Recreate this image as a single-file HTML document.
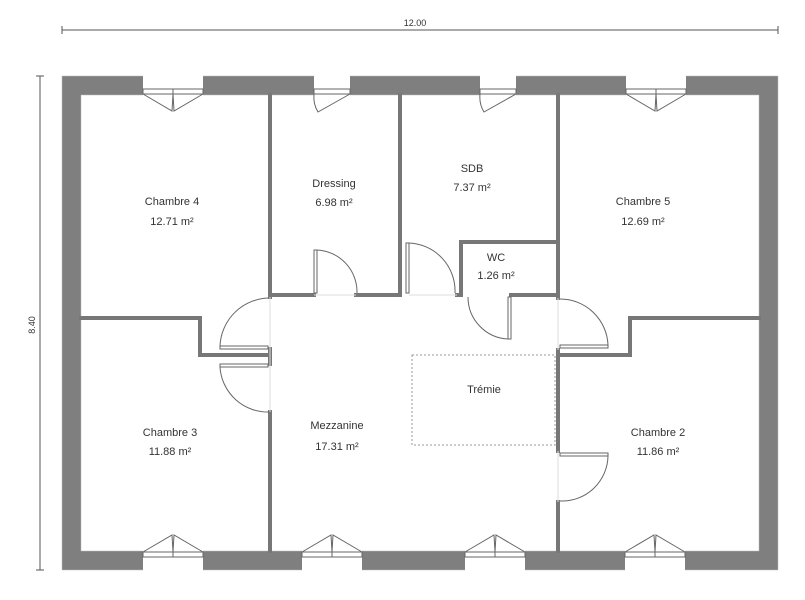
<!DOCTYPE html>
<html><head><meta charset="utf-8"><style>
html,body{margin:0;padding:0;background:#fff;}
svg{display:block;}
text{font-family:"Liberation Sans",sans-serif;font-size:11px;fill:#333;text-anchor:middle;}
</style></head><body>
<svg width="805" height="600" viewBox="0 0 805 600" xmlns="http://www.w3.org/2000/svg">
<!-- dimensions -->
<g stroke="#555" stroke-width="1">
<line x1="62" y1="30" x2="778" y2="30"/><line x1="62" y1="26" x2="62" y2="34"/><line x1="778" y1="26" x2="778" y2="34"/>
<line x1="40" y1="76" x2="40" y2="570"/><line x1="36" y1="76" x2="44" y2="76"/><line x1="36" y1="570" x2="44" y2="570"/>
</g>
<text x="415" y="26" style="font-size:9px">12.00</text>
<text x="0" y="0" style="font-size:9px" transform="translate(35,325) rotate(-90)">8.40</text>

<!-- outer walls -->
<path fill-rule="evenodd" fill="#7f7f7f" stroke="#bbb" stroke-width="0.5" d="M62,76 H778 V570 H62 Z M81,95 V551 H759 V95 Z"/>

<!-- window openings -->
<g fill="#fff">
<rect x="143" y="75" width="60" height="21"/><rect x="314" y="75" width="36" height="21"/>
<rect x="480" y="75" width="36" height="21"/><rect x="626" y="75" width="60" height="21"/>
<rect x="143" y="550" width="60" height="21"/><rect x="302" y="550" width="60" height="21"/>
<rect x="465" y="550" width="60" height="21"/><rect x="625" y="550" width="60" height="21"/>
</g>
<g fill="none" stroke="#666" stroke-width="1">
<!-- top double windows -->
<rect x="143" y="89" width="60" height="5"/><line x1="173" y1="89" x2="173" y2="94"/>
<path d="M143,94 L172,111 L173,94 M203,94 L174,111 L173,94"/>
<rect x="626" y="89" width="60" height="5"/><line x1="656" y1="89" x2="656" y2="94"/>
<path d="M626,94 L655,111 L656,94 M686,94 L657,111 L656,94"/>
<!-- single -->
<rect x="314" y="89" width="36" height="5"/><path d="M350,94 L318,112 Q313,104 314,94"/>
<rect x="480" y="89" width="36" height="5"/><path d="M516,94 L484,112 Q479,104 480,94"/>
<!-- bottom -->
<rect x="143" y="552" width="60" height="5"/><line x1="173" y1="552" x2="173" y2="557"/>
<path d="M143,552 L172,535 L173,552 M203,552 L174,535 L173,552"/>
<rect x="302" y="552" width="60" height="5"/><line x1="332" y1="552" x2="332" y2="557"/>
<path d="M302,552 L331,535 L332,552 M362,552 L333,535 L332,552"/>
<rect x="465" y="552" width="60" height="5"/><line x1="495" y1="552" x2="495" y2="557"/>
<path d="M465,552 L494,535 L495,552 M525,552 L496,535 L495,552"/>
<rect x="625" y="552" width="60" height="5"/><line x1="655" y1="552" x2="655" y2="557"/>
<path d="M625,552 L654,535 L655,552 M685,552 L656,535 L655,552"/>
</g>

<!-- interior walls -->
<g stroke="#777" stroke-width="4" fill="none" stroke-linecap="square">
<line x1="270" y1="95" x2="270" y2="297"/>
<line x1="270" y1="412" x2="270" y2="551"/>
<path d="M81,318 H200 V355 H270"/>
<line x1="270" y1="295" x2="314" y2="295"/>
<line x1="356" y1="295" x2="400" y2="295"/>
<line x1="400" y1="95" x2="400" y2="295"/>
<path d="M457,295 H461 V242 H557"/>
<line x1="511" y1="295" x2="557" y2="295"/>
<line x1="558" y1="95" x2="558" y2="298"/>
<line x1="558" y1="350" x2="558" y2="451"/>
<line x1="558" y1="502" x2="558" y2="551"/>
<path d="M558,355 H630 V318 H759"/>
<line x1="270" y1="349" x2="270" y2="364"/>
</g>

<!-- doors -->
<g fill="none" stroke="#666" stroke-width="1">
<rect x="220" y="346" width="48" height="3"/><path d="M220,346 A50,50 0 0 1 270,298"/>
<rect x="220" y="364" width="48" height="3"/><path d="M220,367 A48,48 0 0 0 270,412"/>
<rect x="314" y="250" width="3" height="43"/><path d="M317,250 A42,42 0 0 1 357,293"/>
<rect x="406" y="243" width="3" height="50"/><path d="M409,243 A48,48 0 0 1 455,293"/>
<rect x="508" y="297" width="3" height="42"/><path d="M508,339 A42,42 0 0 1 468,297"/>
<rect x="560" y="345" width="48" height="3"/><path d="M608,345 A48,48 0 0 0 560,299"/>
<rect x="560" y="453" width="48" height="3"/><path d="M608,456 A46,46 0 0 1 560,501"/>
</g>
<g stroke="#ddd" stroke-width="1">
<line x1="314" y1="295" x2="356" y2="295"/><line x1="409" y1="295" x2="457" y2="295"/>
<line x1="270" y1="297" x2="270" y2="412"/><line x1="558" y1="298" x2="558" y2="350"/><line x1="558" y1="451" x2="558" y2="502"/>
</g>
<!-- tremie -->
<rect x="412" y="355" width="143" height="90" fill="none" stroke="#999" stroke-width="1" stroke-dasharray="2,2"/>

<!-- labels -->
<text x="172" y="205">Chambre 4</text><text x="172" y="225">12.71 m²</text>
<text x="334" y="187">Dressing</text><text x="334" y="206">6.98 m²</text>
<text x="472" y="172">SDB</text><text x="472" y="191">7.37 m²</text>
<text x="643" y="205">Chambre 5</text><text x="643" y="225">12.69 m²</text>
<text x="496" y="261">WC</text><text x="496" y="279">1.26 m²</text>
<text x="484" y="393">Trémie</text>
<text x="170" y="436">Chambre 3</text><text x="170" y="455">11.88 m²</text>
<text x="337" y="429">Mezzanine</text><text x="337" y="450">17.31 m²</text>
<text x="658" y="436">Chambre 2</text><text x="658" y="455">11.86 m²</text>
</svg>
</body></html>
